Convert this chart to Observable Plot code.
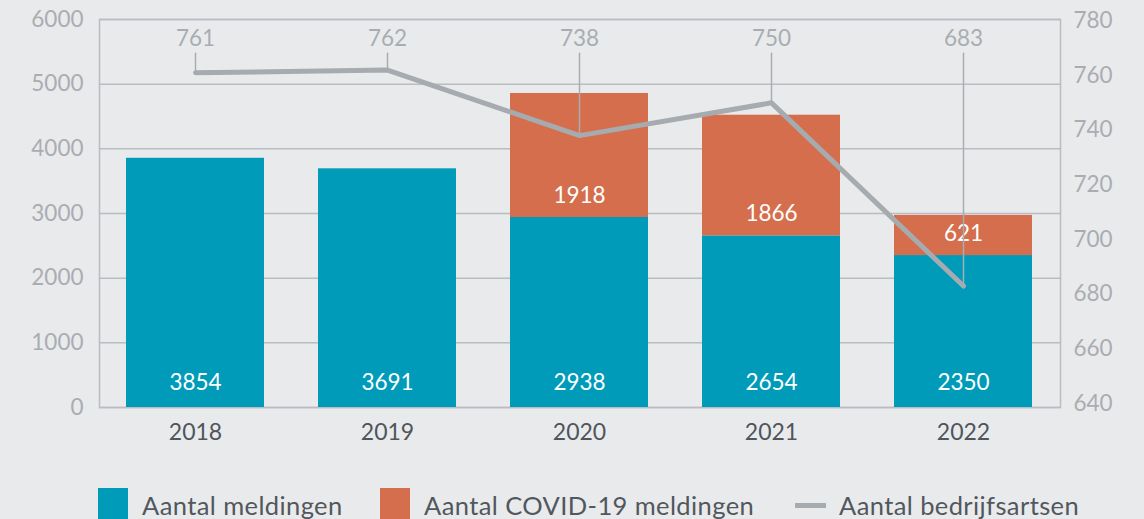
<!DOCTYPE html>
<html>
<head>
<meta charset="utf-8">
<script src="https://cdn.jsdelivr.net/npm/d3@7"></script>
<script src="https://cdn.jsdelivr.net/npm/@observablehq/plot@0.6"></script>
<style>
  html, body { margin: 0; padding: 0; background: #e9eaec; }
  body { width: 1144px; height: 519px; overflow: hidden; font-family: Lato, "Noto Sans", sans-serif; position: relative; }
  #legend { position: absolute; left: 0; top: 487px; width: 1144px; height: 40px; font-size: 25.5px; color: #51575d; white-space: nowrap; letter-spacing: 0.4px; }
  .item { position: absolute; top: 0; display: flex; align-items: center; height: 36px; }
  .sw { width: 30px; height: 34px; margin-right: 14px; flex: none; }
  .ln { width: 31px; height: 5px; margin-right: 13px; background: #a6abb0; flex: none; }
</style>
</head>
<body>
<div id="chart"></div>
<div id="legend"></div>
<script>
const years = ["2018", "2019", "2020", "2021", "2022"];
const meldingen = [3854, 3691, 2938, 2654, 2350];
const covid = [0, 0, 1918, 1866, 621];
const bedrijfsartsen = [761, 762, 738, 750, 683];
const leftTicks = [0, 1000, 2000, 3000, 4000, 5000, 6000];
const rightTicks = [640, 660, 680, 700, 720, 740, 760, 780];
const seriesNames = ["Aantal meldingen", "Aantal COVID-19 meldingen", "Aantal bedrijfsartsen"];
const colors = ["#009bb9", "#d56e4c", "#a6abb0"];

// map right-axis values (640..780) into left-axis units
const r2l = v => 60 + (v - 640) / 140 * 5920;
const l2r = d => Math.round(640 + (d - 60) / 5920 * 140);

const rows = [];
years.forEach((y, i) => {
  rows.push({year: y, series: seriesNames[0], value: meldingen[i]});
  rows.push({year: y, series: seriesNames[1], value: covid[i]});
});
const lineData = years.map((y, i) => ({year: y, v: bedrijfsartsen[i], yl: r2l(bedrijfsartsen[i])}));
const covidLabels = years.map((y, i) => ({year: y, base: meldingen[i], v: covid[i]})).filter(d => d.v > 0);
const baseLabels = years.map((y, i) => ({year: y, v: meldingen[i]}));

const tickColor = "#a9adb1";
const gridColor = "#b9bdc2";

const chart = Plot.plot({
  width: 1144,
  height: 470,
  marginLeft: 99,
  marginRight: 84,
  marginTop: 19,
  marginBottom: 63,
  style: {background: "transparent", fontFamily: "Lato, 'Noto Sans', sans-serif", overflow: "visible"},
  x: {domain: years, paddingInner: 0.28, paddingOuter: 0.14, label: null},
  y: {domain: [0, 6000], label: null},
  color: {domain: seriesNames, range: colors},
  marks: [
    Plot.gridY(leftTicks, {stroke: gridColor, strokeOpacity: 1, strokeWidth: 1.5}),
    Plot.frame({stroke: gridColor, strokeWidth: 1.5}),
    Plot.axisY(leftTicks, {anchor: "left", tickSize: 0, tickPadding: 16, fontSize: 22.5, fill: tickColor, label: null, tickFormat: d3.format("d")}),
    Plot.axisY(rightTicks.map(r2l), {anchor: "right", tickSize: 0, tickPadding: 13, fontSize: 22.5, fill: tickColor, label: null, tickFormat: l2r}),
    Plot.axisX({tickSize: 0, tickPadding: 16, fontSize: 23, fill: "#4f555b", label: null}),
    Plot.barY(rows, {x: "year", y: "value", fill: "series", order: seriesNames}),
    Plot.text(baseLabels, {x: "year", y: 0, text: d => String(d.v), dy: -25, fill: "white", fontSize: 22.5}),
    Plot.text(covidLabels, {x: "year", y: "base", text: d => String(d.v), dy: -22, fill: "white", fontSize: 22.5}),
    Plot.ruleX(lineData, {x: "year", y1: 5480, y2: "yl", stroke: tickColor, strokeWidth: 1.5}),
    Plot.line(lineData, {x: "year", y: "yl", stroke: colors[2], strokeWidth: 5, strokeLinejoin: "miter", strokeLinecap: "round"}),
    Plot.text(lineData, {x: "year", y: 5700, text: d => String(d.v), fill: tickColor, fontSize: 22.5})
  ]
});
document.getElementById("chart").appendChild(chart);

const legend = document.getElementById("legend");
const legendLeft = [98, 380, 795];
seriesNames.forEach((name, i) => {
  const item = document.createElement("div");
  item.className = "item";
  item.style.left = legendLeft[i] + "px";
  const sw = document.createElement("div");
  if (i < 2) { sw.className = "sw"; sw.style.background = colors[i]; }
  else { sw.className = "ln"; }
  item.appendChild(sw);
  const t = document.createElement("span");
  t.textContent = name;
  item.appendChild(t);
  legend.appendChild(item);
});
</script>
</body>
</html>
